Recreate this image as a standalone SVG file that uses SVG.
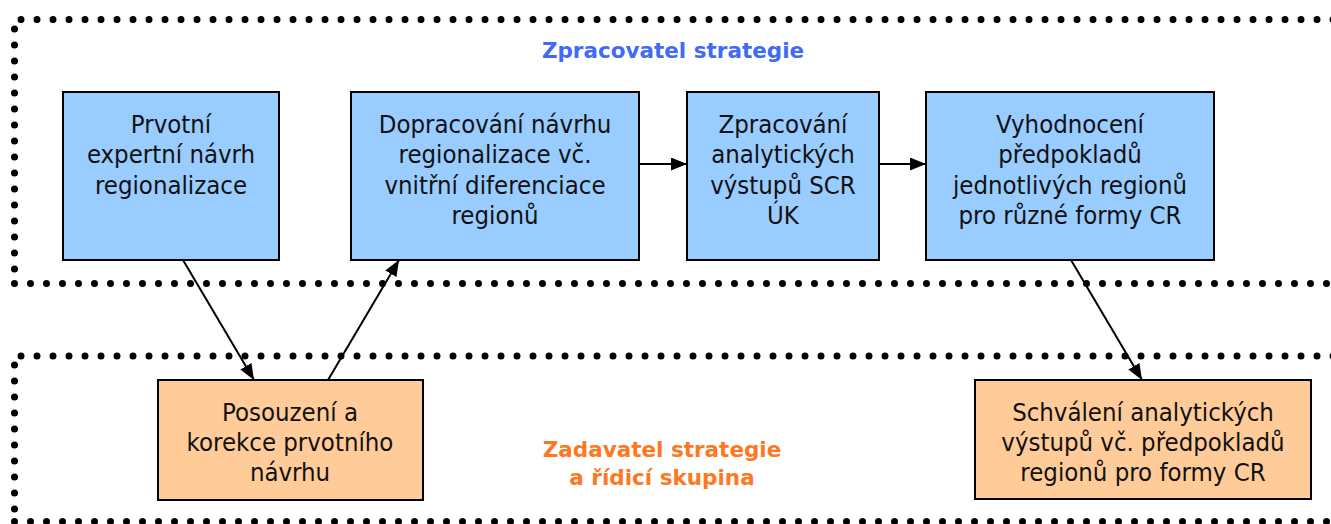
<svg xmlns="http://www.w3.org/2000/svg" width="1331" height="524" viewBox="0 0 1331 524">
<style>
.dots{fill:none;stroke:#000;stroke-width:7;stroke-linecap:round;stroke-dasharray:0 16}
.blue{fill:#99CCFF;stroke:#000;stroke-width:2}
.orange{fill:#FFCC99;stroke:#000;stroke-width:2}
.t{font-family:"DejaVu Sans Condensed","DejaVu Sans",sans-serif;font-size:25.5px;fill:#111;text-anchor:middle}
.h{font-family:"DejaVu Sans","Liberation Sans",sans-serif;font-size:21.5px;font-weight:bold;text-anchor:middle}
.c{fill:none;stroke:#000;stroke-width:2}
</style>
<defs>
<marker id="ah" viewBox="0 0 16 13" refX="16" refY="6.5" markerWidth="16" markerHeight="13" markerUnits="userSpaceOnUse" orient="auto">
<path d="M0 0 L16 6.5 L0 13 Z" fill="#000"/>
</marker>
</defs>
<g id="zone-zpracovatel">
<path class="dots" d="M21 19.5 H1345"/>
<path class="dots" d="M14.5 29 V270"/>
<path class="dots" d="M14.5 283.5 H1345"/>
<text class="h" x="673" y="58" fill="#3F6BF5">Zpracovatel strategie</text>
</g>
<g id="zone-zadavatel">
<path class="dots" d="M21 356 H1345"/>
<path class="dots" d="M14.5 365 V510"/>
<path class="dots" d="M14.5 521.5 H1345"/>
<text class="h" x="662" y="457" fill="#FF7722">Zadavatel strategie</text>
<text class="h" x="662" y="485" fill="#FF7722">a řídicí skupina</text>
</g>
<g id="connectors">
<path class="c" d="M183 260 L254 380" marker-end="url(#ah)"/>
<path class="c" d="M328 380 L399 260" marker-end="url(#ah)"/>
<path class="c" d="M639 164 L687 164" marker-end="url(#ah)"/>
<path class="c" d="M879 164 L926 164" marker-end="url(#ah)"/>
<path class="c" d="M1071 260 L1142 380" marker-end="url(#ah)"/>
</g>
<g id="n1">
<rect class="blue" x="63" y="92" width="216" height="168"/>
<text class="t" x="171" y="133">Prvotní</text>
<text class="t" x="171" y="163">expertní návrh</text>
<text class="t" x="171" y="194">regionalizace</text>
</g>
<g id="n2">
<rect class="blue" x="351" y="92" width="288" height="168"/>
<text class="t" x="495" y="133">Dopracování návrhu</text>
<text class="t" x="495" y="163">regionalizace vč.</text>
<text class="t" x="495" y="194">vnitřní diferenciace</text>
<text class="t" x="495" y="224">regionů</text>
</g>
<g id="n3">
<rect class="blue" x="687" y="92" width="192" height="168"/>
<text class="t" x="783" y="133">Zpracování</text>
<text class="t" x="783" y="163">analytických</text>
<text class="t" x="783" y="194">výstupů SCR</text>
<text class="t" x="783" y="224">ÚK</text>
</g>
<g id="n4">
<rect class="blue" x="926" y="92" width="288" height="168"/>
<text class="t" x="1070" y="133">Vyhodnocení</text>
<text class="t" x="1070" y="163">předpokladů</text>
<text class="t" x="1070" y="194">jednotlivých regionů</text>
<text class="t" x="1070" y="224">pro různé formy CR</text>
</g>
<g id="n5">
<rect class="orange" x="158" y="380" width="265" height="120"/>
<text class="t" x="290" y="421">Posouzení a</text>
<text class="t" x="290" y="451">korekce prvotního</text>
<text class="t" x="290" y="481">návrhu</text>
</g>
<g id="n6">
<rect class="orange" x="975" y="380" width="336" height="119"/>
<text class="t" x="1143" y="421">Schválení analytických</text>
<text class="t" x="1143" y="451">výstupů vč. předpokladů</text>
<text class="t" x="1143" y="481">regionů pro formy CR</text>
</g>
</svg>
